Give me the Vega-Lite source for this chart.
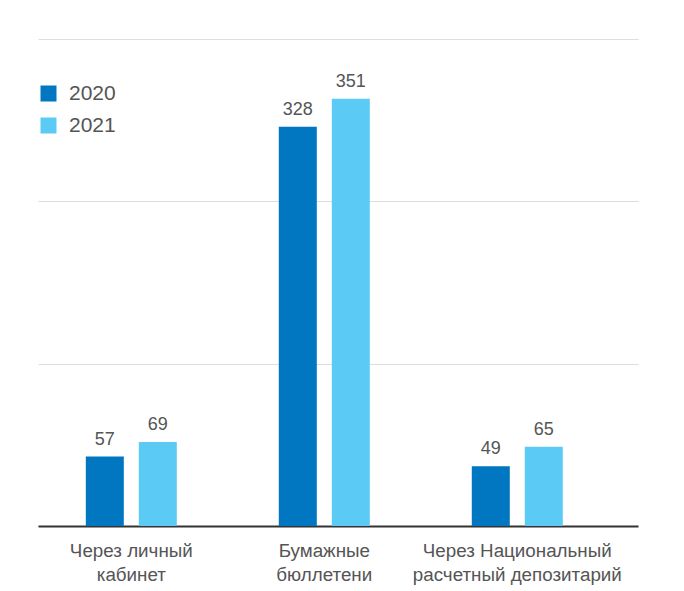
{
  "$schema": "https://vega.github.io/schema/vega-lite/v6.json",
  "width": 600,
  "height": 487,
  "autosize": {"type": "none"},
  "padding": {"left": 38, "top": 39, "right": 46, "bottom": 65},
  "background": "#ffffff",
  "data": {
    "values": [
      {"cat": "Через личный\nкабинет", "year": "2020", "value": 57},
      {"cat": "Через личный\nкабинет", "year": "2021", "value": 69},
      {"cat": "Бумажные\nбюллетени", "year": "2020", "value": 328},
      {"cat": "Бумажные\nбюллетени", "year": "2021", "value": 351},
      {"cat": "Через Национальный\nрасчетный депозитарий", "year": "2020", "value": 49},
      {"cat": "Через Национальный\nрасчетный депозитарий", "year": "2021", "value": 65}
    ]
  },
  "encoding": {
    "x": {
      "field": "cat",
      "type": "nominal",
      "sort": null,
      "title": null,
      "scale": {"paddingInner": 0.033, "paddingOuter": 0.071, "align": 0},
      "axis": {
        "labelAngle": 0,
        "labelExpr": "split(datum.value, '\\n')",
        "labelFont": "Liberation Sans",
        "labelFontSize": 18.8,
        "labelColor": "#555555",
        "labelLineHeight": 24,
        "labelPadding": 15,
        "labelLimit": 0,
        "ticks": false,
        "domainColor": "#333333",
        "domainWidth": 2,
        "grid": false
      }
    },
    "xOffset": {
      "field": "year",
      "type": "nominal",
      "scale": {"paddingInner": 0.283, "paddingOuter": 0.902}
    },
    "y": {
      "field": "value",
      "type": "quantitative",
      "title": null,
      "scale": {"domain": [0, 400], "nice": false},
      "axis": {
        "values": [0, 133.333, 266.667, 400],
        "labels": false,
        "ticks": false,
        "domain": false,
        "gridColor": "#dddddd",
        "gridWidth": 1
      }
    }
  },
  "layer": [
    {
      "mark": {"type": "bar"},
      "encoding": {
        "color": {
          "field": "year",
          "type": "nominal",
          "scale": {"domain": ["2020", "2021"], "range": ["#0077C0", "#5BCBF5"]},
          "legend": {
            "title": null,
            "orient": "none",
            "legendX": 0,
            "legendY": 44,
            "padding": 0,
            "symbolType": "square",
            "symbolSize": 256,
            "symbolStrokeWidth": 0,
            "symbolOpacity": 1,
            "labelFont": "Liberation Sans",
            "labelFontSize": 21,
            "labelColor": "#555555",
            "labelOffset": 10,
            "rowPadding": 10
          }
        }
      }
    },
    {
      "mark": {
        "type": "text",
        "baseline": "bottom",
        "dy": -8,
        "font": "Liberation Sans",
        "fontSize": 18,
        "color": "#555555"
      },
      "encoding": {
        "text": {"field": "value", "type": "quantitative"}
      }
    }
  ],
  "config": {
    "view": {"stroke": null}
  }
}
